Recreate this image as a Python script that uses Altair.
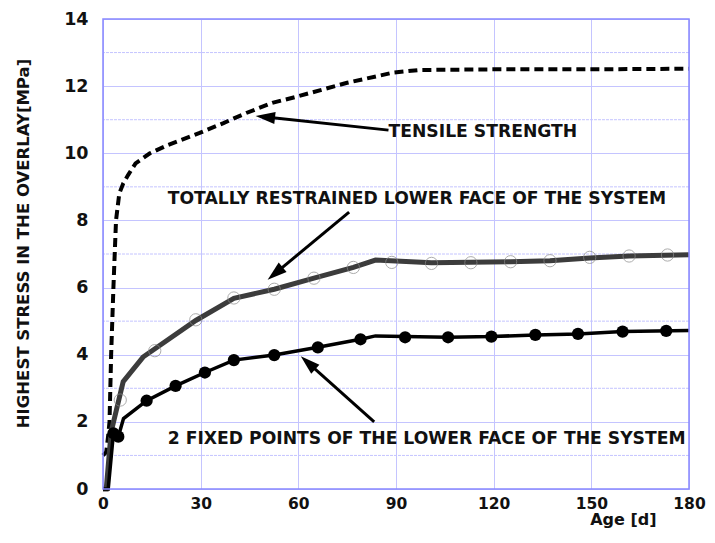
import math
import altair as alt
import pandas as pd

# ---- data ----
ts_x = [0, 1, 1.6, 2.0, 2.5, 3.2, 4.0, 5.0, 6.2, 7.7, 10, 14.4, 20, 29.5, 37, 44, 52, 60, 75, 89, 97, 120, 150, 180]
ts_y = [1.0, 1.1, 1.6, 2.0, 4.0, 6.0, 8.0, 8.8, 9.1, 9.35, 9.7, 10.0, 10.25, 10.6, 10.9, 11.2, 11.5, 11.7, 12.1, 12.4, 12.48, 12.5, 12.5, 12.52]

tr_line_x = [0, 1, 2.5, 6.2, 12.3, 28.5, 40.2, 52.6, 64.8, 76.9, 83.7, 100.9, 125.2, 137.3, 149.5, 161.6, 180]
tr_line_y = [0, 0, 1.7, 3.2, 3.93, 5.02, 5.68, 5.95, 6.28, 6.6, 6.82, 6.74, 6.77, 6.8, 6.88, 6.94, 6.98]
tr_pt_x = [5.3, 15.9, 28.5, 40.2, 52.6, 64.8, 76.9, 88.7, 100.9, 113.0, 125.2, 137.3, 149.5, 161.6, 173.4]
tr_pt_y = [2.65, 4.12, 5.04, 5.69, 5.95, 6.28, 6.6, 6.75, 6.72, 6.74, 6.77, 6.8, 6.9, 6.94, 6.97]

fp_line_x = [0, 1.6, 3.2, 4.7, 6.3, 13.4, 22.3, 31.3, 40.2, 52.6, 66.0, 79.1, 83.7, 106.0, 119.3, 132.8, 145.9, 159.6, 180]
fp_line_y = [0, 0, 1.66, 1.56, 2.1, 2.63, 3.07, 3.47, 3.84, 3.99, 4.22, 4.46, 4.56, 4.52, 4.54, 4.59, 4.62, 4.69, 4.72]
fp_pt_x = [3.2, 4.7, 13.4, 22.3, 31.3, 40.2, 52.6, 66.0, 79.1, 92.8, 106.0, 119.3, 132.8, 145.9, 159.6, 173.0]
fp_pt_y = [1.66, 1.56, 2.63, 3.07, 3.47, 3.84, 3.99, 4.22, 4.46, 4.52, 4.52, 4.54, 4.59, 4.62, 4.69, 4.71]

labels = ["TENSILE STRENGTH",
          "TOTALLY RESTRAINED LOWER FACE OF THE SYSTEM",
          "2 FIXED POINTS OF THE LOWER FACE OF THE SYSTEM"]
label_x = [87.7, 19.9, 19.9]
label_y = [10.63, 8.64, 1.49]
arrow_x0 = [87.7, 75.6, 83.3]
arrow_y0 = [10.69, 8.25, 2.0]
arrow_x1 = [50.0, 53.0, 63.1]
arrow_y1 = [11.08, 6.43, 3.75]

x_ticks = [0, 30, 60, 90, 120, 150, 180]
y_ticks = [0, 2, 4, 6, 8, 10, 12, 14]
y_minor = [1, 3, 5, 7, 9, 11, 13]

W, H = 586, 470
XMAX, YMAX = 180, 14

# ---- tables ----
ts = pd.DataFrame({"x": ts_x, "y": ts_y})
trl = pd.DataFrame({"x": tr_line_x, "y": tr_line_y})
trp = pd.DataFrame({"x": tr_pt_x, "y": tr_pt_y})
fpl = pd.DataFrame({"x": fp_line_x, "y": fp_line_y})
fpp = pd.DataFrame({"x": fp_pt_x, "y": fp_pt_y})
lab = pd.DataFrame({"t": labels, "x": label_x, "y": label_y})

ang = []
for a, b, c, d in zip(arrow_x0, arrow_y0, arrow_x1, arrow_y1):
    dx = (c - a) * W / XMAX
    dy = -(d - b) * H / YMAX
    deg = math.degrees(math.atan2(dx, -dy)) % 360
    ang.append(deg)
arr = pd.DataFrame({"x0": arrow_x0, "y0": arrow_y0, "x1": arrow_x1, "y1": arrow_y1, "ang": ang})

xs = alt.Scale(domain=[0, XMAX], nice=False, zero=False)
ys = alt.Scale(domain=[0, YMAX], nice=False, zero=False)
font = "DejaVu Sans"
grid_col = "#c4c4ff"

minor = alt.Chart(pd.DataFrame({"y": y_minor})).mark_rule(
    color=grid_col, strokeWidth=1, strokeDash=[3, 1]
).encode(y=alt.Y("y:Q", scale=ys))

base_axes = alt.Chart(ts).mark_point(opacity=0).encode(
    x=alt.X("x:Q", scale=xs, axis=alt.Axis(
        values=x_ticks, title="Age [d]", grid=True, gridColor=grid_col, gridWidth=1,
        ticks=False, domain=False, labelFont=font, labelFontSize=15.5, labelFontWeight="bold",
        labelColor="#111", labelPadding=7, titleFont=font, titleFontSize=16,
        titleFontWeight="bold", titleColor="#111", titleX=553, titleY=30,
        titleAlign="right", titleBaseline="middle", labelFlush=False)),
    y=alt.Y("y:Q", scale=ys, axis=alt.Axis(
        values=y_ticks, title="HIGHEST  STRESS IN THE OVERLAY[MPa]", grid=True,
        gridColor=grid_col, gridWidth=1, ticks=False, domain=False, labelFont=font,
        labelFontSize=17.5, labelFontWeight="bold", labelColor="#111", labelPadding=15,
        titleFont=font, titleFontSize=16.5, titleFontWeight="bold", titleColor="#111",
        titleX=-80, titleY=224, titleAlign="center", titleAngle=270,
        titleBaseline="middle", labelFlush=False)),
)

tensile = alt.Chart(ts).mark_line(color="black", strokeWidth=4, strokeDash=[9, 5]).encode(
    x=alt.X("x:Q", scale=xs), y=alt.Y("y:Q", scale=ys))

tr_line = alt.Chart(trl).mark_line(color="#3c3c3c", strokeWidth=5).encode(
    x=alt.X("x:Q", scale=xs), y=alt.Y("y:Q", scale=ys))
tr_pts = alt.Chart(trp).mark_point(shape="circle", size=150, filled=False, color="#8a8a8a",
                                   strokeWidth=1).encode(
    x=alt.X("x:Q", scale=xs), y=alt.Y("y:Q", scale=ys))

fp_line = alt.Chart(fpl).mark_line(color="black", strokeWidth=3.5).encode(
    x=alt.X("x:Q", scale=xs), y=alt.Y("y:Q", scale=ys))
fp_pts = alt.Chart(fpp).mark_point(shape="circle", size=150, filled=True, color="black",
                                   opacity=1).encode(
    x=alt.X("x:Q", scale=xs), y=alt.Y("y:Q", scale=ys))

texts = alt.Chart(lab).mark_text(align="left", baseline="middle", font=font, fontSize=17.2,
                                 fontWeight="bold", color="#111").encode(
    x=alt.X("x:Q", scale=xs), y=alt.Y("y:Q", scale=ys), text="t:N")

arrow_lines = alt.Chart(arr).mark_rule(color="black", strokeWidth=3).encode(
    x=alt.X("x0:Q", scale=xs), y=alt.Y("y0:Q", scale=ys), x2="x1:Q", y2="y1:Q")
arrow_heads = alt.Chart(arr).mark_point(shape="M0,-1L0.6,0.9L-0.6,0.9Z", size=420, filled=True,
                                        color="black", opacity=1).encode(
    x=alt.X("x1:Q", scale=xs), y=alt.Y("y1:Q", scale=ys), angle=alt.Angle("ang:Q", scale=None))

frame = alt.Chart(pd.DataFrame({"a": [0]})).mark_rect(
    fill=None, stroke="#8888ff", strokeWidth=1.5
).encode(x=alt.value(0), x2=alt.value(W), y=alt.value(0), y2=alt.value(H))

chart = alt.layer(minor, base_axes, tensile, tr_line, tr_pts, fp_line, fp_pts,
                  arrow_lines, arrow_heads, texts, frame).properties(
    width=W, height=H,
    autosize=alt.AutoSizeParams(type="none"),
    padding={"left": 95, "top": 11, "right": 18, "bottom": 41},
    background="white",
).configure_view(stroke=None)

chart.save("out.html", embed_options={"renderer": "svg", "actions": False})
